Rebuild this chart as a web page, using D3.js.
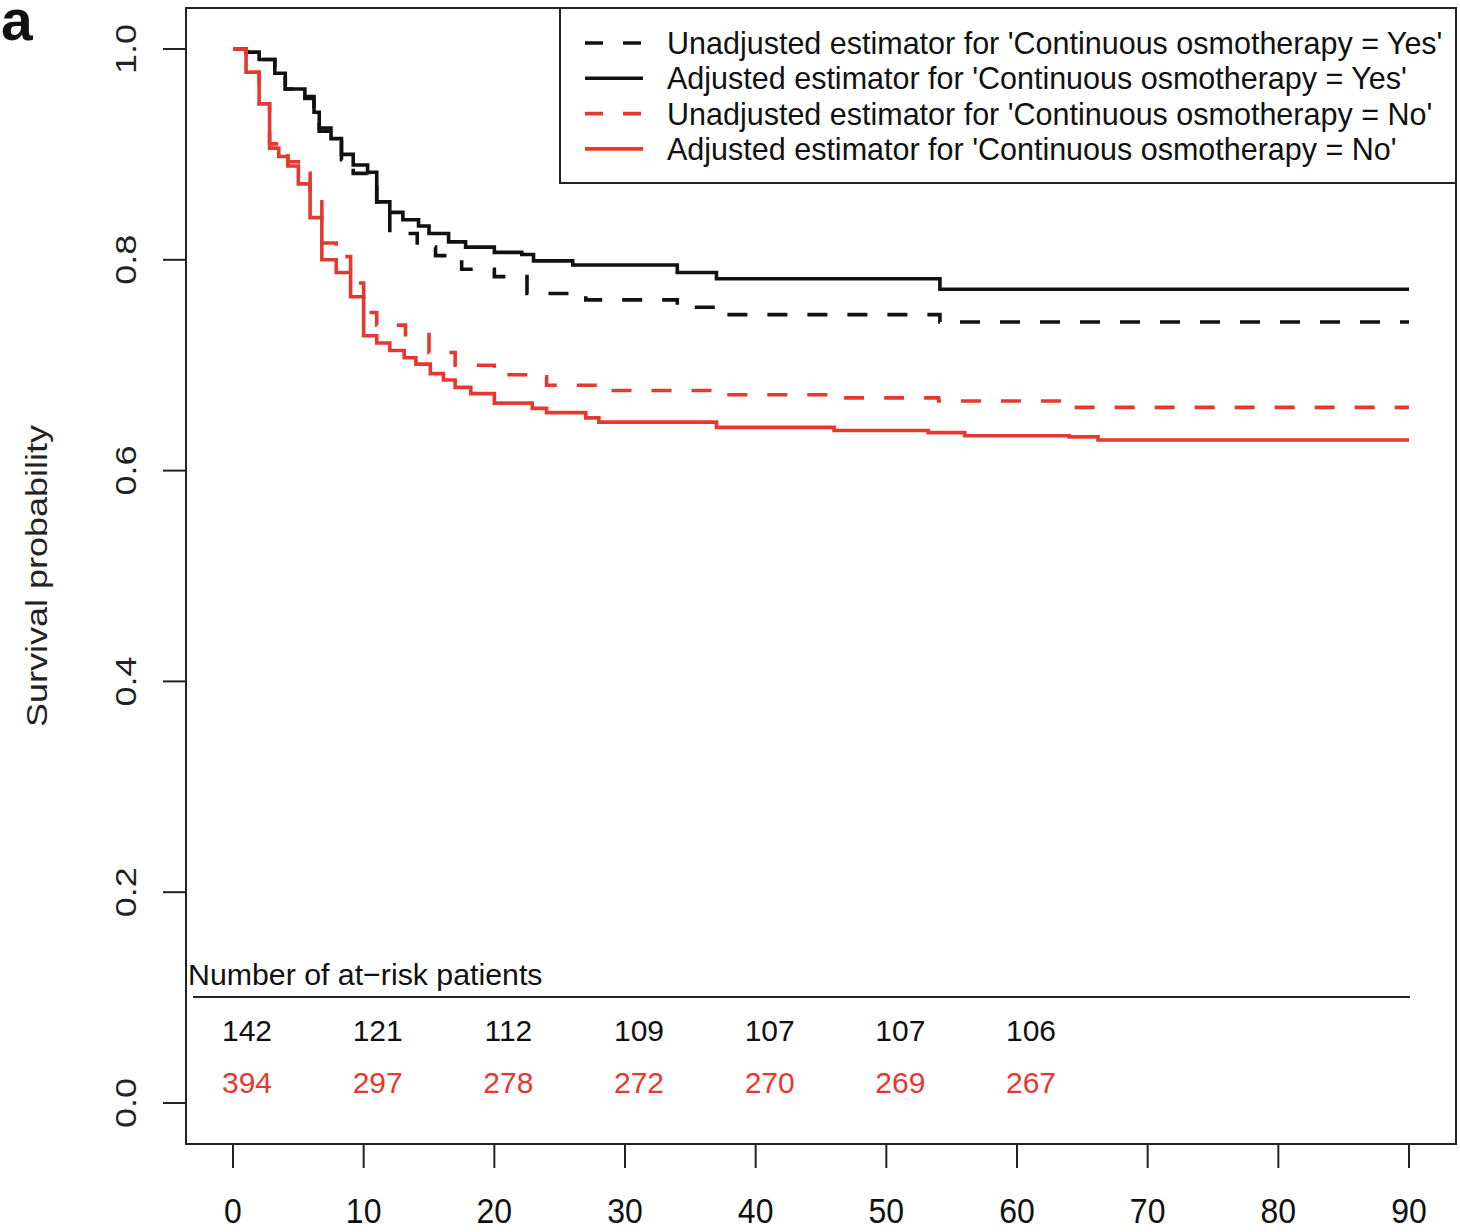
<!DOCTYPE html>
<html>
<head>
<meta charset="utf-8">
<script src="https://cdn.jsdelivr.net/npm/d3@7"></script>
<style>
  html, body { margin: 0; padding: 0; background: #fff; }
  svg { display: block; font-family: "Liberation Sans", Arial, Helvetica, sans-serif; }
</style>
</head>
<body>
<script>
// Kaplan-Meier style survival estimates (days since admission)
const adjYesTime = [0, 1.0, 2.0, 3.2, 4.0, 5.5, 6.2, 6.6, 7.5, 8.3, 9.2, 10.3, 11.0, 12.0, 13.0, 14.2, 15.0, 16.5, 17.8, 20.0, 22.1, 23.0, 26.0, 34.0, 37.0, 54.1, 90];
const adjYesSurv = [1, 0.997, 0.99, 0.977, 0.962, 0.955, 0.94, 0.925, 0.915, 0.90, 0.89, 0.883, 0.855, 0.845, 0.838, 0.832, 0.825, 0.817, 0.812, 0.807, 0.805, 0.799, 0.795, 0.788, 0.782, 0.772, 0.772];

const unadjYesTime = [0, 1.0, 2.0, 3.2, 4.0, 5.5, 6.2, 6.6, 7.5, 8.3, 9.2, 10.3, 11.0, 12.0, 14.1, 15.5, 17.5, 20.0, 22.5, 26.0, 27.0, 34.0, 37.0, 54.1, 90];
const unadjYesSurv = [1, 0.997, 0.99, 0.975, 0.962, 0.953, 0.935, 0.922, 0.912, 0.895, 0.882, 0.878, 0.855, 0.825, 0.812, 0.804, 0.791, 0.784, 0.768, 0.766, 0.762, 0.755, 0.748, 0.741, 0.741];

const unadjNoTime = [0, 1.0, 2.0, 2.8, 3.5, 4.2, 5.0, 5.9, 6.8, 7.9, 9.0, 10.0, 11.0, 13.2, 15.0, 17.0, 20.0, 22.8, 24.0, 28.0, 37.0, 46.0, 54.0, 64.0, 90];
const unadjNoSurv = [1, 0.978, 0.948, 0.91, 0.902, 0.893, 0.882, 0.855, 0.816, 0.803, 0.778, 0.75, 0.738, 0.729, 0.712, 0.70, 0.691, 0.689, 0.681, 0.676, 0.672, 0.669, 0.666, 0.660, 0.660];

const adjNoTime = [0, 1.0, 2.0, 2.8, 3.5, 4.2, 5.0, 5.9, 6.8, 7.9, 9.0, 10.0, 11.0, 12.0, 13.1, 14.0, 15.1, 16.1, 17.0, 18.2, 20.0, 22.9, 24.0, 27.0, 28.0, 37.0, 46.0, 53.2, 56.0, 64.0, 66.2, 90];
const adjNoSurv = [1, 0.978, 0.948, 0.906, 0.898, 0.889, 0.872, 0.84, 0.80, 0.788, 0.765, 0.728, 0.721, 0.714, 0.707, 0.701, 0.692, 0.686, 0.679, 0.673, 0.664, 0.659, 0.655, 0.650, 0.646, 0.641, 0.638, 0.636, 0.633, 0.632, 0.629, 0.629];

// Number at risk
const riskTimes = [0, 10, 20, 30, 40, 50, 60];
const riskYes = [142, 121, 112, 109, 107, 107, 106];
const riskNo = [394, 297, 278, 272, 270, 269, 267];

const xTicks = [0, 10, 20, 30, 40, 50, 60, 70, 80, 90];
const yTicks = [0, 0.2, 0.4, 0.6, 0.8, 1.0];

const legendLabels = [
  "Unadjusted estimator for 'Continuous osmotherapy = Yes'",
  "Adjusted estimator for 'Continuous osmotherapy = Yes'",
  "Unadjusted estimator for 'Continuous osmotherapy = No'",
  "Adjusted estimator for 'Continuous osmotherapy = No'"
];

const BLACK = "#111111";
const RED = "#e5392f";

const W = 1460, H = 1232;
const box = { left: 186, top: 8, right: 1456, bottom: 1144 };

const svg = d3.select("body").append("svg").attr("width", W).attr("height", H);

const x = d3.scaleLinear().domain([0, 90]).range([233, 1409]);
const y = d3.scaleLinear().domain([0, 1]).range([1103, 49]);

function htext(px, py, str, size, anchor, color, sy) {
  return svg.append("text")
    .attr("transform", `translate(${px},${py}) scale(1,${sy || 1})`)
    .attr("text-anchor", anchor)
    .attr("font-size", size)
    .attr("fill", color)
    .text(str);
}
function vtext(px, py, str, size, color, sx) {
  return svg.append("text")
    .attr("transform", `translate(${px},${py}) rotate(-90) scale(${sx},1)`)
    .attr("text-anchor", "middle")
    .attr("font-size", size)
    .attr("fill", color)
    .text(str);
}

// Frame
svg.append("rect")
  .attr("x", box.left).attr("y", box.top)
  .attr("width", box.right - box.left).attr("height", box.bottom - box.top)
  .attr("fill", "none").attr("stroke", "#222").attr("stroke-width", 2);

// Y axis ticks and labels
yTicks.forEach(t => {
  svg.append("line")
    .attr("x1", box.left - 23).attr("x2", box.left)
    .attr("y1", y(t)).attr("y2", y(t))
    .attr("stroke", "#222").attr("stroke-width", 2);
  vtext(136, y(t), t.toFixed(1), 30, "#222", 1.2);
});
vtext(47, (box.top + box.bottom) / 2, "Survival probability", 30, "#222", 1.2);

// X axis ticks and labels
xTicks.forEach(t => {
  svg.append("line")
    .attr("x1", x(t)).attr("x2", x(t))
    .attr("y1", box.bottom).attr("y2", box.bottom + 24)
    .attr("stroke", "#222").attr("stroke-width", 2);
  htext(x(t), 1223, String(t), 32, "middle", "#111", 1.1);
});

// Survival curves
const line = d3.line().curve(d3.curveStepAfter).x(d => x(d[0])).y(d => y(d[1]));
const series = [
  { t: unadjYesTime, s: unadjYesSurv, color: BLACK, dash: "20,20" },
  { t: adjYesTime, s: adjYesSurv, color: BLACK, dash: null },
  { t: unadjNoTime, s: unadjNoSurv, color: RED, dash: "20,20" },
  { t: adjNoTime, s: adjNoSurv, color: RED, dash: null }
];
series.forEach(sr => {
  const pts = sr.t.map((t, i) => [t, sr.s[i]]);
  svg.append("path")
    .attr("d", line(pts))
    .attr("fill", "none")
    .attr("stroke", sr.color)
    .attr("stroke-width", 3.6)
    .attr("stroke-dasharray", sr.dash)
    .attr("stroke-linejoin", "miter");
});

// Legend
svg.append("rect")
  .attr("x", 560).attr("y", box.top)
  .attr("width", box.right - 560).attr("height", 183 - box.top)
  .attr("fill", "#fff").attr("stroke", "#222").attr("stroke-width", 2);
legendLabels.forEach((lab, i) => {
  const ly = 43 + i * 35.3;
  svg.append("line")
    .attr("x1", 585).attr("x2", 643)
    .attr("y1", ly).attr("y2", ly)
    .attr("stroke", series[i].color).attr("stroke-width", 3.6)
    .attr("stroke-dasharray", series[i].dash ? "18,20" : null);
  htext(667, ly + 11, lab, 30.5, "start", "#111");
});

// Number of patients at risk
htext(188, 985, "Number of at\u2212risk patients", 30.3, "start", "#111");
svg.append("line")
  .attr("x1", 193).attr("x2", 1410)
  .attr("y1", 997).attr("y2", 997)
  .attr("stroke", "#222").attr("stroke-width", 2);
riskTimes.forEach((t, i) => {
  htext(x(t) + 14, 1041, String(riskYes[i]), 30, "middle", "#111");
  htext(x(t) + 14, 1093, String(riskNo[i]), 30, "middle", RED);
});

// Panel letter
svg.append("text")
  .attr("x", 1).attr("y", 40)
  .attr("font-size", 57).attr("font-weight", "bold")
  .attr("fill", "#111")
  .text("a");
</script>
</body>
</html>
